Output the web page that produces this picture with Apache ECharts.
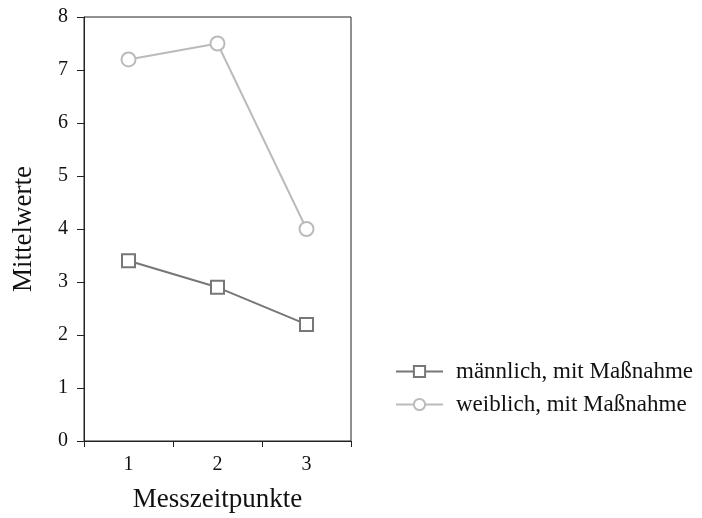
<!DOCTYPE html>
<html><head><meta charset="utf-8">
<script src="https://cdn.jsdelivr.net/npm/echarts@6/dist/echarts.min.js"></script>
<style>html,body{margin:0;padding:0;background:#fff}#c{width:702px;height:518px}</style>
</head><body><div id="c"></div>
<script>
const categories = ['1', '2', '3'];
const maleValues = [3.4, 2.9, 2.2];
const femaleValues = [7.2, 7.5, 4.0];
const seriesNames = ['männlich, mit Maßnahme', 'weiblich, mit Maßnahme'];
const yMin = 0, yMax = 8, yInterval = 1;

const font = 'Liberation Serif';
const chart = echarts.init(document.getElementById('c'), null, {renderer: 'canvas'});
chart.setOption({
  animation: false,
  backgroundColor: '#fff',
  textStyle: {fontFamily: font},
  grid: {left: 84, top: 17, width: 267, height: 426, show: true, borderColor: '#222', borderWidth: 1, containLabel: false},
  legend: {
    orient: 'vertical', left: 390, top: 355, itemWidth: 47, itemHeight: 14, itemGap: 10,
    textStyle: {fontFamily: font, fontSize: 23, color: '#111', padding: [0,0,0,8]},
    data: seriesNames
  },
  xAxis: {
    type: 'category', data: categories, boundaryGap: true,
    name: 'Messzeitpunkte', nameLocation: 'middle', nameGap: 45,
    nameTextStyle: {fontFamily: font, fontSize: 27, color: '#111'},
    axisLine: {lineStyle: {color: '#222', width: 1}},
    axisTick: {show: true, length: 6, inside: false, lineStyle: {color: '#222'}},
    axisLabel: {fontFamily: font, fontSize: 20, color: '#111', margin: 14},
    splitLine: {show: false}
  },
  yAxis: {
    type: 'value', min: yMin, max: yMax, interval: yInterval,
    name: 'Mittelwerte', nameLocation: 'middle', nameGap: 47, nameRotate: 90,
    nameTextStyle: {fontFamily: font, fontSize: 27, color: '#111'},
    axisLine: {show: true, lineStyle: {color: '#222', width: 1}},
    axisTick: {show: true, length: 7, lineStyle: {color: '#222'}},
    axisLabel: {fontFamily: font, fontSize: 20, color: '#111', margin: 16},
    splitLine: {show: false}
  },
  series: [
    {
      name: seriesNames[0], type: 'line', data: maleValues,
      symbol: 'rect', symbolSize: 13,
      lineStyle: {color: '#777', width: 2},
      itemStyle: {color: '#fff', borderColor: '#777', borderWidth: 2}
    },
    {
      name: seriesNames[1], type: 'line', data: femaleValues,
      symbol: 'circle', symbolSize: 14,
      lineStyle: {color: '#bbb', width: 2},
      itemStyle: {color: '#fff', borderColor: '#bbb', borderWidth: 2}
    }
  ]
});
</script></body></html>
